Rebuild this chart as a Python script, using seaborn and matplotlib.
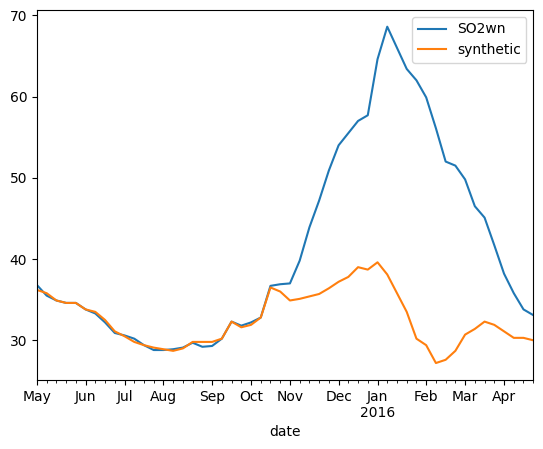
import pandas as pd
import matplotlib
matplotlib.use("Agg")
import matplotlib.pyplot as plt
import matplotlib.dates as mdates
from matplotlib.ticker import FixedLocator, FixedFormatter
import seaborn as sns

# weekly values, May 2015 - Apr 2016 (week ending Sunday)
dates = pd.date_range("2015-05-03", periods=52, freq="W-SUN")
so2wn = [36.8, 35.5, 34.9, 34.6, 34.6, 33.8, 33.3, 32.2, 30.9, 30.6,
         30.2, 29.4, 28.8, 28.8, 28.9, 29.1, 29.7, 29.2, 29.3, 30.2,
         32.3, 31.8, 32.2, 32.8, 36.7, 36.9, 37.0, 39.8, 43.9, 47.2,
         50.9, 54.0, 55.5, 57.0, 57.7, 64.6, 68.6, 66.0, 63.4, 62.0,
         59.9, 56.1, 52.0, 51.5, 49.8, 46.5, 45.1, 41.7, 38.2, 35.8,
         33.8, 33.1]
synthetic = [36.2, 35.8, 34.9, 34.6, 34.6, 33.8, 33.5, 32.5, 31.1, 30.5,
             29.8, 29.4, 29.1, 28.9, 28.7, 29.0, 29.8, 29.8, 29.8, 30.2,
             32.3, 31.6, 31.9, 32.8, 36.5, 36.0, 34.9, 35.1, 35.4, 35.7,
             36.4, 37.2, 37.8, 39.0, 38.7, 39.6, 38.1, 35.8, 33.5, 30.2,
             29.4, 27.2, 27.6, 28.7, 30.7, 31.4, 32.3, 31.9, 31.1, 30.3,
             30.3, 30.0]

df = pd.DataFrame({"date": dates, "SO2wn": so2wn, "synthetic": synthetic})

fig, ax = plt.subplots(figsize=(5.43, 4.49), dpi=100)
fig.subplots_adjust(left=0.068, right=0.982, top=0.978, bottom=0.154)

sns.lineplot(data=df, x="date", y="SO2wn", ax=ax, color="#1f77b4", label="SO2wn")
sns.lineplot(data=df, x="date", y="synthetic", ax=ax, color="#ff7f0e", label="synthetic")

# month ticks on the first week of each month, like pandas period plots
first = df[df["date"].dt.month != df["date"].shift().dt.month]["date"]
labels = []
for d in first:
    lab = d.strftime("%b")
    if d.month == 1:
        lab += "\n" + str(d.year)
    labels.append(lab)
ax.xaxis.set_major_locator(FixedLocator(mdates.date2num(first)))
ax.xaxis.set_major_formatter(FixedFormatter(labels))
ax.xaxis.set_minor_locator(FixedLocator(mdates.date2num(df["date"])))
ax.set_xlim(dates[0], dates[-1])

ax.set_xlabel("date")
ax.set_ylabel("")
ax.legend(loc="upper right")

plt.savefig("out.png", dpi=100)
